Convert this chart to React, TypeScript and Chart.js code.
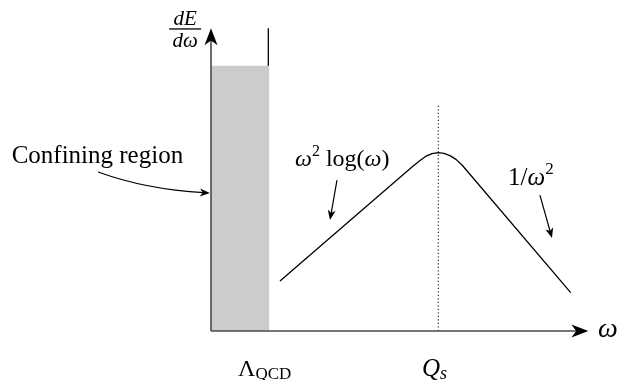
import React, { useEffect, useRef } from "react";
import { Chart, registerables } from "chart.js";

Chart.register(...registerables);

// ---- data (chart coordinates: x 0..10, y 0..10) ----
const curveX = [1.865, 5.432, 5.649, 5.811, 5.973, 6.143, 6.297, 6.459, 6.622, 6.784, 9.722];
const curveY = [1.667, 5.467, 5.683, 5.827, 5.913, 5.943, 5.92, 5.847, 5.72, 5.533, 1.277];
const regionX = [0, 1.576];
const regionY = [8.84, 8.84];
const wallX = [1.549, 1.549];
const wallY = [8.84, 10.09];
const qsX = [6.143, 6.143];
const qsY = [0, 7.53];
const axisTip = [10.2, 10.09];

// annotation arrows: [x0, y0, x1, y1]
const arrowLog = [3.405, 5.03, 3.216, 3.7];
const arrowInv = [8.89, 4.53, 9.216, 3.1];
// curved arrow: start, control, end
const arrowConf = [-3.05, 5.3, -1.76, 4.72, -0.03, 4.6];

// text anchors
const confText = "Confining region";
const confPos = [-3.07, 5.6];
const logPos = [2.27, 5.51];
const invPos = [8.03, 4.87];
const tickLabelX = [0.73, 5.7];
const tickLabelY = -1.5;
const omegaPos = [10.46, -0.2];
const fracPos = [-0.7, 10.07];

const SERIF = '"Liberation Serif", "DejaVu Serif", serif';

type Seg = { t: string; italic?: boolean; size: number; dy?: number };

function drawRich(ctx: CanvasRenderingContext2D, segs: Seg[], x: number, y: number) {
  let cx = x;
  for (const s of segs) {
    ctx.font = `${s.italic ? "italic " : ""}${s.size}px ${SERIF}`;
    ctx.fillText(s.t, cx, y + (s.dy || 0));
    cx += ctx.measureText(s.t).width;
  }
  return cx - x;
}

function arrowHead(ctx: CanvasRenderingContext2D, x: number, y: number, ang: number, len: number, hw: number) {
  ctx.save();
  ctx.translate(x, y);
  ctx.rotate(ang);
  ctx.beginPath();
  ctx.moveTo(0, 0);
  ctx.lineTo(-len, -hw);
  ctx.lineTo(-len * 0.72, 0);
  ctx.lineTo(-len, hw);
  ctx.closePath();
  ctx.fill();
  ctx.restore();
}

const overlay = {
  id: "overlay",
  afterDatasetsDraw(chart: any) {
    const ctx: CanvasRenderingContext2D = chart.ctx;
    const xs = chart.scales.x;
    const ys = chart.scales.y;
    const px = (v: number) => xs.getPixelForValue(v);
    const py = (v: number) => ys.getPixelForValue(v);
    ctx.save();
    // axes
    ctx.strokeStyle = "#4a4a4a";
    ctx.fillStyle = "#000";
    ctx.lineWidth = 1.6;
    ctx.beginPath();
    ctx.moveTo(px(0), py(0));
    ctx.lineTo(px(axisTip[0]) - 8, py(0));
    ctx.moveTo(px(0), py(0));
    ctx.lineTo(px(0), py(axisTip[1]) + 8);
    ctx.stroke();
    arrowHead(ctx, px(axisTip[0]), py(0), 0, 17, 6.5);
    arrowHead(ctx, px(0), py(axisTip[1]), -Math.PI / 2, 17, 6.5);

    // straight annotation arrows
    ctx.strokeStyle = "#000";
    ctx.lineWidth = 1.2;
    for (const a of [arrowLog, arrowInv]) {
      const x0 = px(a[0]), y0 = py(a[1]), x1 = px(a[2]), y1 = py(a[3]);
      const ang = Math.atan2(y1 - y0, x1 - x0);
      ctx.beginPath();
      ctx.moveTo(x0, y0);
      ctx.lineTo(x1 - Math.cos(ang) * 6, y1 - Math.sin(ang) * 6);
      ctx.stroke();
      arrowHead(ctx, x1, y1, ang, 10, 4);
    }
    // curved arrow
    {
      const x0 = px(arrowConf[0]), y0 = py(arrowConf[1]);
      const cx = px(arrowConf[2]), cy = py(arrowConf[3]);
      const x1 = px(arrowConf[4]), y1 = py(arrowConf[5]);
      const ang = Math.atan2(y1 - cy, x1 - cx);
      ctx.beginPath();
      ctx.moveTo(x0, y0);
      ctx.quadraticCurveTo(cx, cy, x1 - Math.cos(ang) * 6, y1 - Math.sin(ang) * 6);
      ctx.stroke();
      arrowHead(ctx, x1, y1, ang, 10, 4);
    }

    // texts
    ctx.fillStyle = "#000";
    ctx.textBaseline = "alphabetic";
    ctx.textAlign = "left";
    ctx.font = `25px ${SERIF}`;
    const cw = ctx.measureText(confText).width;
    ctx.fillText(confText, px(confPos[0]) - cw / 2, py(confPos[1]));

    drawRich(
      ctx,
      [
        { t: "ω", italic: true, size: 24 },
        { t: "2", size: 16, dy: -10 },
        { t: " log(", size: 24 },
        { t: "ω", italic: true, size: 24 },
        { t: ")", size: 24 },
      ],
      px(logPos[0]),
      py(logPos[1])
    );
    drawRich(
      ctx,
      [
        { t: "1/", size: 25 },
        { t: "ω", italic: true, size: 25 },
        { t: "2", size: 17, dy: -11 },
      ],
      px(invPos[0]),
      py(invPos[1])
    );
    drawRich(
      ctx,
      [
        { t: "Λ", size: 24 },
        { t: "QCD", size: 17, dy: 3 },
      ],
      px(tickLabelX[0]),
      py(tickLabelY)
    );
    drawRich(
      ctx,
      [
        { t: "Q", italic: true, size: 25 },
        { t: "s", italic: true, size: 18, dy: 3 },
      ],
      px(tickLabelX[1]),
      py(tickLabelY)
    );
    drawRich(ctx, [{ t: "ω", italic: true, size: 28 }], px(omegaPos[0]), py(omegaPos[1]));

    // fraction dE/dω
    const fx = px(fracPos[0]);
    const fy = py(fracPos[1]);
    ctx.textAlign = "center";
    ctx.font = `italic 21px ${SERIF}`;
    ctx.fillText("dE", fx, fy - 4);
    ctx.fillText("dω", fx, fy + 18);
    ctx.fillRect(fx - 16, fy - 0.6, 32, 1.3);
    ctx.restore();
  },
};

export default function App() {
  const ref = useRef<HTMLCanvasElement | null>(null);
  useEffect(() => {
    document.body.style.margin = "0";
    const canvas = ref.current;
    if (!canvas) return;
    const pts = (xs: number[], ys: number[]) => xs.map((x, i) => ({ x, y: ys[i] }));
    const chart = new Chart(canvas, {
      type: "line",
      data: {
        datasets: [
          {
            data: pts(curveX, curveY),
            borderColor: "#000",
            borderWidth: 1.3,
            borderJoinStyle: "round",
            pointRadius: 0,
            fill: false,
            clip: false as any,
            order: 1,
          },
          {
            data: pts(qsX, qsY),
            borderColor: "#000",
            borderWidth: 1,
            borderDash: [1.2, 2.3],
            pointRadius: 0,
            fill: false,
            clip: false as any,
            order: 1,
          },
          {
            data: pts(wallX, wallY),
            borderColor: "#000",
            borderWidth: 1.3,
            pointRadius: 0,
            fill: false,
            clip: false as any,
            order: 1,
          },
          {
            data: pts(regionX, regionY),
            borderColor: "rgba(0,0,0,0)",
            borderWidth: 0,
            backgroundColor: "#cccccc",
            pointRadius: 0,
            fill: "origin",
            clip: false as any,
            order: 3,
          },
        ],
      },
      options: {
        animation: false,
        responsive: false,
        events: [],
        layout: { padding: { left: 211, right: 36, top: 31, bottom: 49 } },
        scales: {
          x: { type: "linear", min: 0, max: 10, display: false },
          y: { type: "linear", min: 0, max: 10, display: false },
        },
        plugins: { legend: { display: false }, tooltip: { enabled: false } },
      },
      plugins: [overlay],
    });
    return () => chart.destroy();
  }, []);
  return (
    <div style={{ width: 617, height: 380, background: "#fff" }}>
      <canvas ref={ref} width={617} height={380} style={{ display: "block" }} />
    </div>
  );
}
